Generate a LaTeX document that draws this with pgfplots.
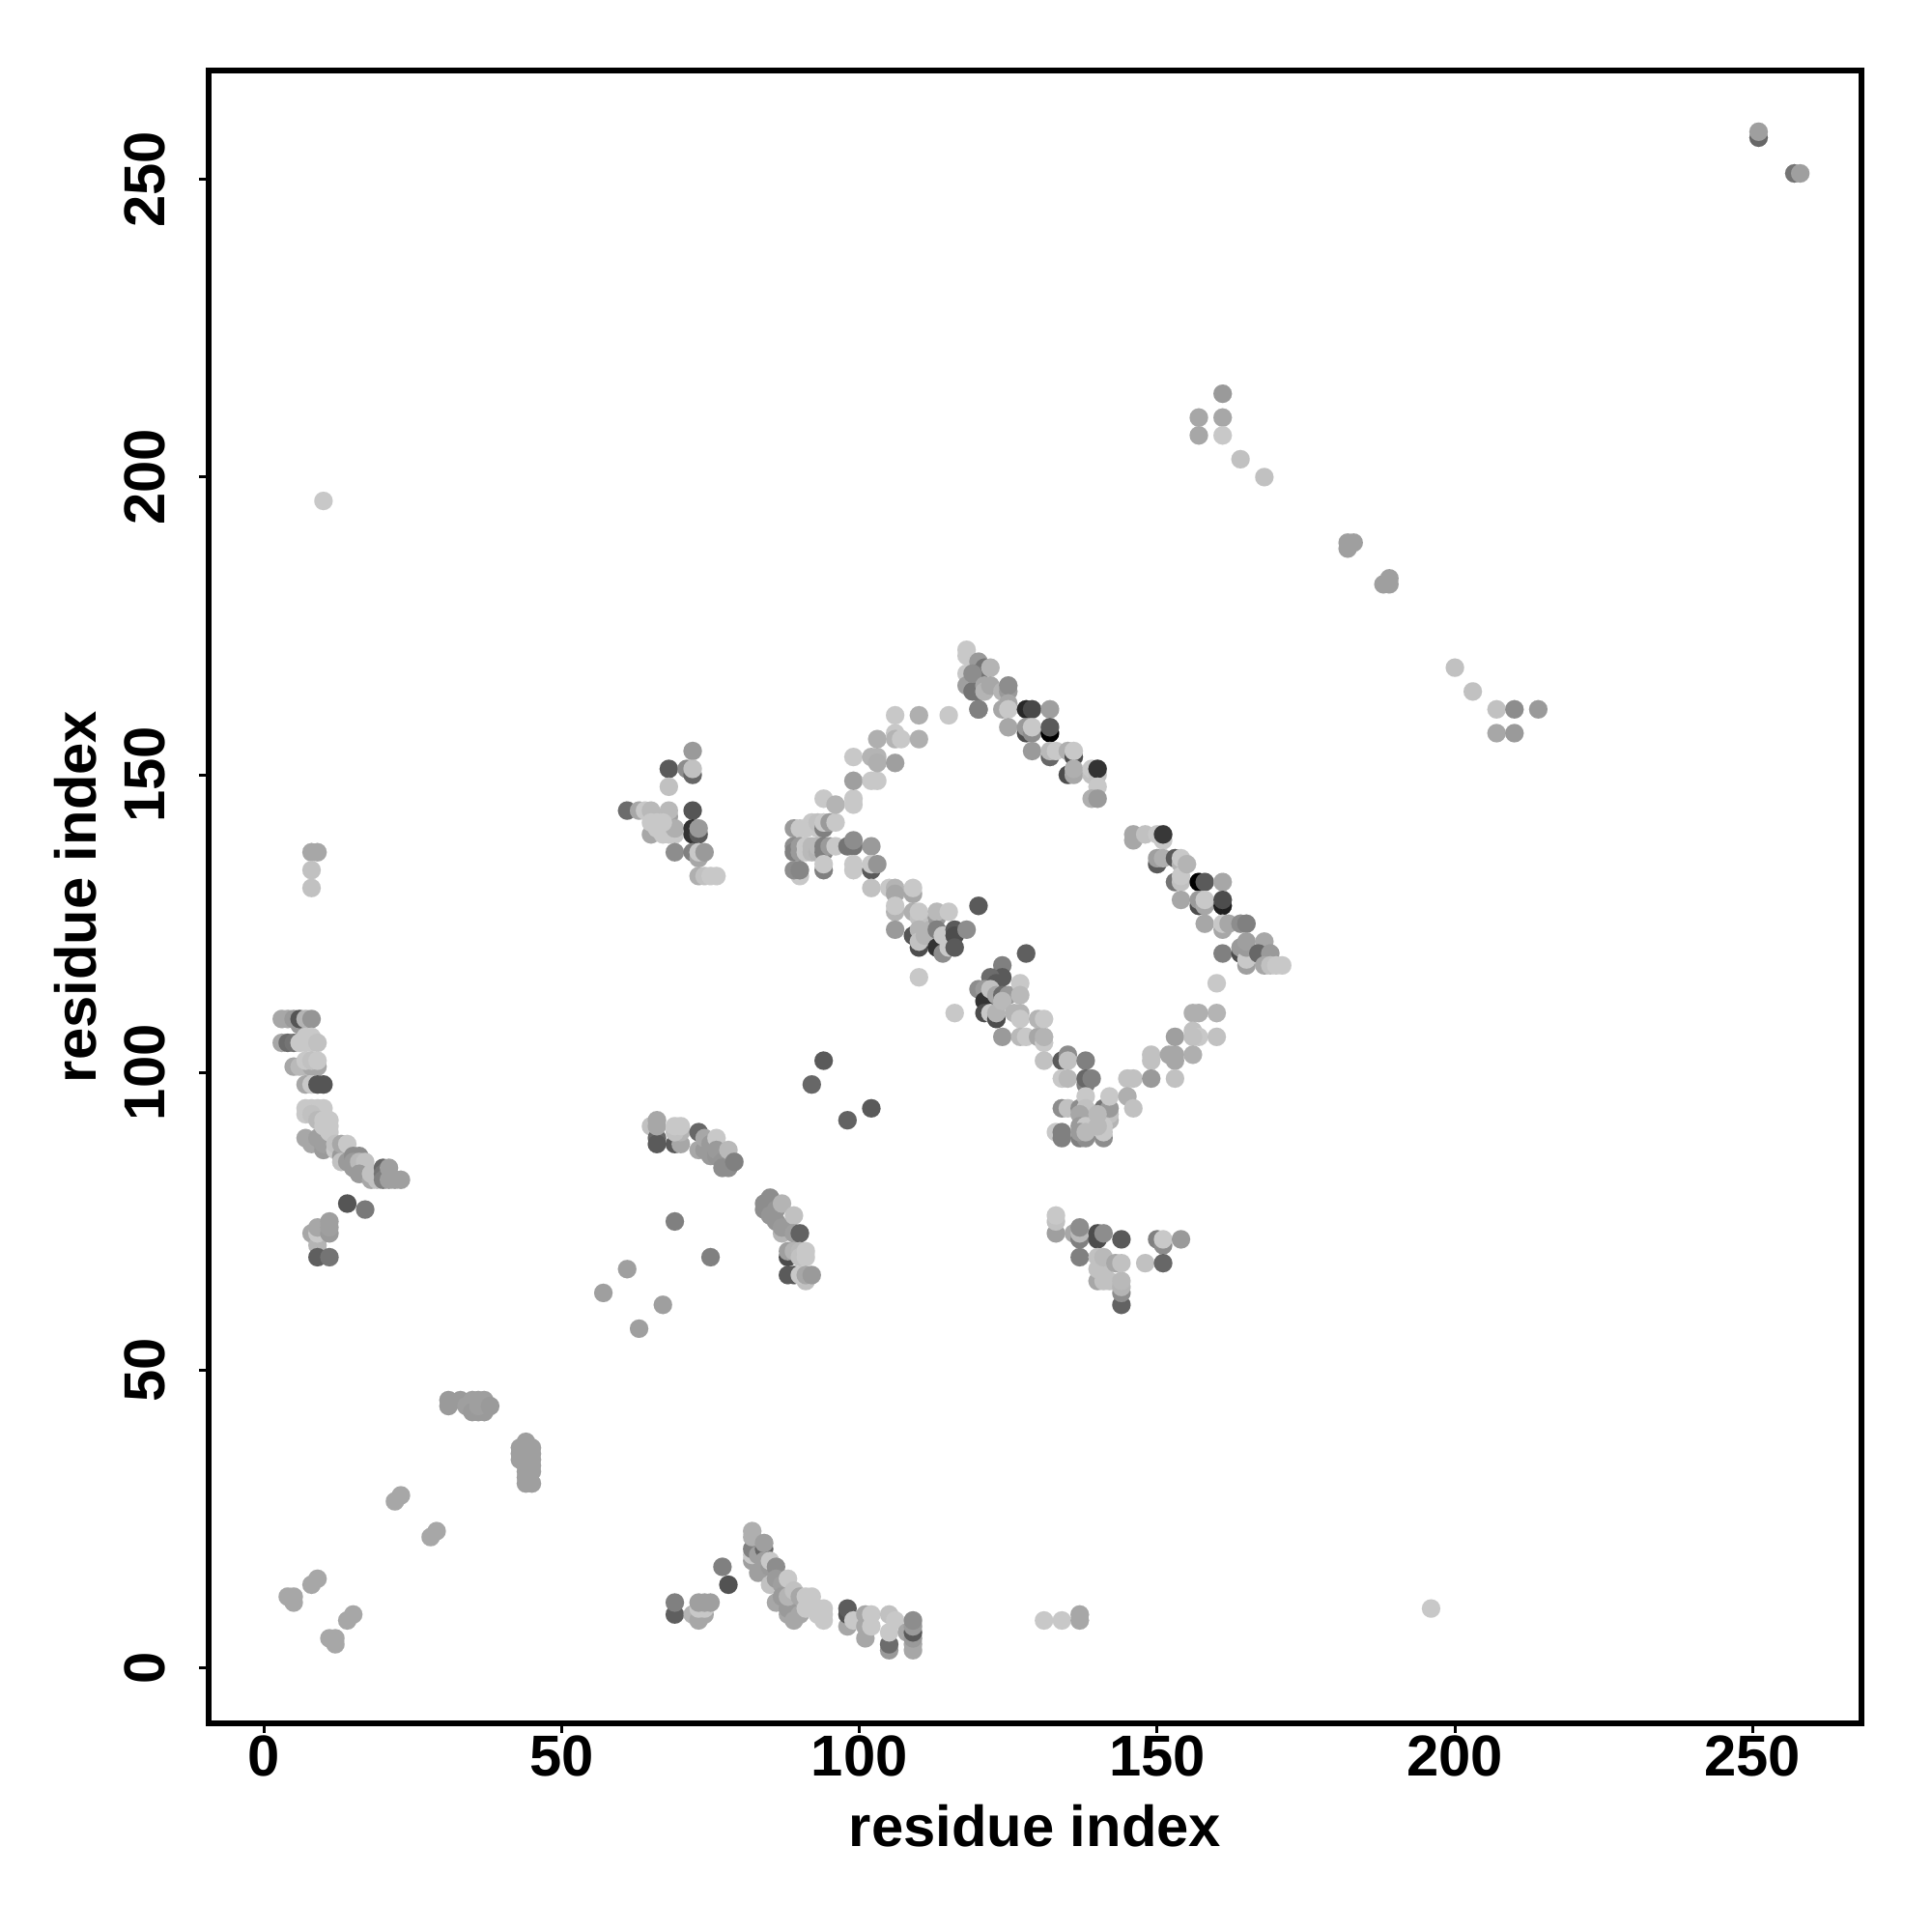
\documentclass[border=0pt]{standalone}
\usepackage{fontspec}
\setmainfont{Liberation Sans}
\usepackage{pgfplots}
\pgfplotsset{compat=1.18}
\begin{document}
\begin{tikzpicture}
\path[use as bounding box] (-21.6mm,-21.6mm) rectangle (178.4mm,178.4mm);
\begin{axis}[
  scale only axis, width=171.1mm, height=171.1mm,
  xmin=-9.28, xmax=268.28, ymin=-9.28, ymax=268.28,
  axis line style={line width=0.55mm,black},
  tick style={line width=0.3mm,black},
  tick align=outside, major tick length=1.0mm,
  xtick pos=bottom, ytick pos=left,
  xtick={0,50,100,150,200,250}, ytick={0,50,100,150,200,250},
  /pgf/number format/assume math mode=true,
  ticklabel style={font=\fontsize{17pt}{20pt}\selectfont\bfseries},
  xticklabel style={anchor=north,yshift=1.0mm},
  yticklabel style={rotate=90,anchor=south,yshift=2.2mm},
  xlabel={residue index}, ylabel={residue index},
  label style={font=\fontsize{17pt}{20pt}\selectfont\bfseries},
  xlabel style={at={(axis description cs:0.5,0)},anchor=base,yshift=-12.7mm},
  ylabel style={at={(axis description cs:0,0.5)},anchor=base,rotate=0,yshift=11.6mm},
  colormap={gr}{gray(0cm)=(0); gray(1cm)=(1)},
  point meta min=0, point meta max=1,
]
\addplot[scatter, only marks, mark=*, mark size=2.72pt, point meta=explicit,
  mark options={line width=0.01pt},
  scatter/use mapped color={draw=mapped color,fill=mapped color}] coordinates {
(3,109)[.65] (4,109)[.65] (5,109)[.6] (6,108)[.6] (6,109)[.33] (7,109)[.7] (8,109)[.58]
(3,105)[.65] (4,105)[.42] (5,105)[.45] (6,105)[.78] (7,105)[.78] (7,106)[.78] (8,106)[.78] (8,105)[.78] (9,105)[.75]
(5,101)[.65] (6,101)[.72] (7,101)[.72] (8,101)[.65] (9,101)[.65] (7,102)[.78] (8,102)[.75] (9,102)[.78]
(7,98)[.65] (8,98)[.78] (9,98)[.33] (10,98)[.33]
(7,89)[.65] (8,88)[.65] (9,89)[.62] (10,87)[.6] (10,88)[.62]
(7,94)[.78] (8,94)[.78] (9,94)[.78] (10,94)[.78] (7,93)[.78] (8,93)[.75] (9,92)[.72] (10,92)[.78] (11,92)[.78] (10,91)[.78] (11,91)[.78] (11,90)[.78]
(12,87)[.78] (12,88)[.75] (13,86)[.6] (13,88)[.65] (14,88)[.78] (13,85)[.75] (14,85)[.6] (15,86)[.55] (16,86)[.55] (15,85)[.6] (15,84)[.6] (16,83)[.6] (16,85)[.72] (17,85)[.75] (17,84)[.75]
(16,83)[.6] (18,82)[.65] (18,83)[.75] (19,82)[.75] (20,84)[.4] (20,83)[.45] (20,82)[.5] (21,84)[.62] (21,82)[.62] (22,82)[.62] (23,82)[.62]
(14,78)[.33] (17,77)[.47]
(8,73)[.65] (9,72)[.65] (9,71)[.7] (9,73)[.78] (9,74)[.65] (11,73)[.6] (11,74)[.62] (11,75)[.62]
(9,69)[.37] (11,69)[.45]
(8,137)[.65] (9,137)[.65] (8,134)[.75] (8,131)[.75] (10,196)[.78]
% top left loop cluster
(72,154)[.6] (68,151)[.35] (71,151)[.55] (72,150)[.4] (72,151)[.75] (68,148)[.75]
(61,144)[.42] (63,144)[.65] (64,144)[.78] (65,144)[.72] (68,143)[.62] (68,144)[.72] (72,144)[.33]
(65,140)[.65] (65,142)[.78] (66,141)[.78] (67,140)[.78] (68,140)[.78] (69,140)[.78] (69,141)[.68] (66,142)[.78] (67,142)[.78]
(72,140)[.2] (72,141)[.2] (73,140)[.35] (73,141)[.6]
(69,137)[.55] (72,137)[.5] (73,136)[.65] (73,137)[.78] (74,137)[.6]
(73,133)[.68] (74,133)[.75] (75,133)[.78] (76,133)[.78]
% left of upper arc
(89,141)[.6] (90,141)[.78] (91,141)[.78] (92,142)[.78] (93,141)[.78] (93,142)[.75] (94,141)[.5] (94,142)[.78] (95,142)[.6] (96,142)[.78]
(89,138)[.55] (89,137)[.5] (90,138)[.6] (90,137)[.6] (91,138)[.78] (91,137)[.78] (92,138)[.72] (92,137)[.72] (93,137)[.7] (93,138)[.72] (94,137)[.5] (94,138)[.5] (95,138)[.6] (96,138)[.78]
(90,133)[.78] (89,134)[.55] (90,134)[.52] (94,134)[.5] (94,135)[.78]
(94,146)[.78] (96,145)[.7] (99,146)[.78] (99,145)[.78] (99,149)[.62] (102,149)[.78] (103,149)[.78]
(99,153)[.78] (102,153)[.7] (103,153)[.7] (103,152)[.68] (106,152)[.62] (103,156)[.68] (106,157)[.78] (106,156)[.7] (107,156)[.78] (110,156)[.68]
(106,160)[.78] (110,160)[.68] (115,160)[.78] (120,161)[.5]
(98,138)[.45] (99,138)[.45] (99,139)[.55] (102,138)[.6]
(99,135)[.78] (99,134)[.78] (102,134)[.35] (102,135)[.78] (103,135)[.58]
(102,131)[.75] (105,131)[.78] (106,131)[.7] (106,130)[.65] (109,130)[.65] (109,131)[.78]
(106,127)[.7] (106,128)[.78] (106,124)[.6] (109,127)[.68] (110,126)[.75] (110,127)[.78]
(109,123)[.33] (110,124)[.7] (110,121)[.3] (110,122)[.75] (111,123)[.7] (112,124)[.7] (113,126)[.6] (113,127)[.72] (115,127)[.78]
(113,124)[.5] (113,121)[.2] (114,120)[.55] (115,121)[.78] (114,123)[.78] (116,124)[.35] (116,123)[.3] (116,121)[.35] (118,124)[.55] (120,128)[.35]
(110,116)[.78] (116,110)[.78] (128,120)[.37]
(124,118)[.5] (124,116)[.35] (122,116)[.42] (123,115)[.35] (120,114)[.55] (121,114)[.6]
(121,112)[.2] (122,114)[.75] (123,113)[.65] (124,113)[.42] (125,113)[.6] (127,115)[.78] (127,113)[.72]
(121,110)[.3] (122,110)[.78] (123,109)[.3] (123,110)[.7] (124,112)[.72] (126,110)[.7] (127,110)[.7] (127,109)[.78]
(124,106)[.6] (127,106)[.72] (128,106)[.78] (130,106)[.65] (131,105)[.78] (131,106)[.7] (130,109)[.7] (131,109)[.78] (131,102)[.75]
(134,102)[.35] (135,103)[.55] (135,102)[.75] (138,102)[.5]
(134,99)[.78] (135,99)[.72] (138,98)[.5] (138,99)[.4] (139,99)[.5]
(134,94)[.55] (135,94)[.75] (137,94)[.55] (138,96)[.78] (138,94)[.75] (138,93)[.75] (137,93)[.65] (137,91)[.6] (138,91)[.78]
(141,94)[.45] (142,92)[.7] (142,93)[.75] (142,94)[.6] (142,96)[.78] (141,89)[.55] (141,90)[.78] (141,91)[.78] (140,91)[.72] (140,93)[.72]
(133,90)[.78] (134,90)[.5] (134,89)[.5] (137,89)[.5] (138,89)[.55] (137,90)[.6] (138,90)[.72]
(145,99)[.75] (146,99)[.75] (145,96)[.68] (146,94)[.75]
(149,103)[.75] (149,102)[.75] (149,99)[.6] (152,103)[.65] (153,103)[.65] (153,102)[.65] (153,99)[.75] (153,106)[.62]
(156,110)[.68] (156,107)[.75] (157,106)[.78] (156,106)[.75] (156,103)[.68] (160,106)[.75] (160,110)[.7] (157,110)[.68] (160,115)[.78]
% upper arc
(118,171)[.78] (118,170)[.78] (118,167)[.78] (118,165)[.62] (119,164)[.45] (120,169)[.6] (120,167)[.4] (120,164)[.45] (121,168)[.45] (122,168)[.7] (120,161)[.5]
(119,167)[.55] (121,165)[.65] (121,164)[.7] (122,165)[.65]
(124,164)[.7] (125,164)[.6] (125,165)[.55] (125,162)[.65] (124,161)[.65] (125,161)[.78] (125,158)[.65]
(128,161)[.15] (129,161)[.28] (132,161)[.62] (128,157)[.3] (128,158)[.6] (129,157)[.55] (129,158)[.78] (132,157)[0] (132,158)[.35]
(129,154)[.6] (132,153)[.4] (132,154)[.72] (133,154)[.78] (135,154)[.68] (136,153)[.3] (136,154)[.78]
(135,150)[.3] (136,150)[.65] (136,151)[.68] (139,150)[.75] (139,151)[.78] (140,150)[.75] (140,151)[.2] (140,148)[.78]
(139,146)[.68] (140,146)[.6]
% lower right arm
(146,140)[.65] (146,139)[.65] (148,140)[.75] (150,140)[.78] (151,139)[.78] (151,140)[.22]
(150,135)[.35] (150,136)[.62] (151,136)[.68] (153,136)[.35] (154,135)[.7] (154,136)[.78]
(153,132)[.45] (154,132)[.75] (154,133)[.78] (154,129)[.65] (157,132)[0] (158,132)[.35] (161,132)[.65]
(157,128)[.3] (157,129)[.6] (158,128)[.65] (158,129)[.78] (161,128)[.12] (161,129)[.3]
(158,125)[.65] (161,124)[.65] (161,125)[.78] (162,125)[.65] (164,125)[.55] (165,125)[.5]
(161,120)[.5] (164,120)[.3] (164,121)[.6] (165,118)[.62] (165,119)[.78] (165,121)[.6] (165,122)[.62]
(168,122)[.65] (167,120)[.4] (169,120)[.6] (168,118)[.65] (169,118)[.75] (170,118)[.78] (171,118)[.78]
(155,135)[.7]
% upper right scattered
(251,257)[.4] (251,258)[.62] (257,251)[.45] (258,251)[.62]
(161,214)[.6] (157,210)[.65] (161,210)[.65] (157,207)[.65] (161,207)[.78] (164,203)[.75] (168,200)[.75]
(182,188)[.62] (182,189)[.62] (183,189)[.62] (188,182)[.62] (189,182)[.62] (189,183)[.62]
(200,168)[.75] (203,164)[.75] (207,161)[.75] (210,161)[.55] (214,161)[.6] (207,157)[.65] (210,157)[.6]
(94,102)[.35] (92,98)[.4] (98,92)[.38] (102,94)[.35]
% middle
(65,91)[.75] (66,89)[.4] (66,88)[.35] (66,91)[.65] (66,92)[.65]
(69,88)[.35] (70,88)[.65] (70,90)[.7] (69,90)[.75] (69,91)[.78] (70,91)[.78]
(73,90)[.4] (73,87)[.65] (74,87)[.6] (74,89)[.65] (75,88)[.6] (76,89)[.78] (75,86)[.6] (76,86)[.58] (76,87)[.6] (77,85)[.58] (77,84)[.55] (78,84)[.55] (78,87)[.72] (79,85)[.5]
(84,77)[.55] (84,78)[.55] (85,79)[.55] (85,76)[.58] (86,75)[.58] (86,77)[.58] (87,78)[.7] (87,73)[.7] (87,74)[.6] (88,74)[.6] (89,76)[.75] (89,73)[.62] (90,73)[.38]
(88,69)[.3] (88,70)[.62] (89,70)[.7] (90,70)[.72] (90,69)[.75] (91,70)[.78] (91,69)[.78]
(88,66)[.35] (89,66)[.35] (91,65)[.75] (90,66)[.78] (91,66)[.65] (92,66)[.6]
(69,75)[.5] (75,69)[.5] (61,67)[.62] (67,61)[.62] (57,63)[.62] (63,57)[.62]
% lower middle
(133,73)[.62] (133,75)[.75] (133,76)[.78]
(136,73)[.65] (137,72)[.5] (137,73)[.72] (137,74)[.55] (137,69)[.5]
(140,72)[.3] (140,73)[.3] (141,73)[.55] (144,72)[.35]
(140,65)[.65] (141,65)[.75] (142,65)[.75] (140,67)[.75] (141,67)[.75] (140,69)[.75] (141,69)[.72]
(144,61)[.38] (144,63)[.55] (144,64)[.7] (144,65)[.72] (143,68)[.65] (144,68)[.75]
(148,68)[.75] (150,72)[.5] (151,71)[.55] (151,72)[.78] (154,72)[.6] (151,68)[.4]
% 31-45 groups
(31,44)[.6] (31,45)[.6] (33,45)[.6] (34,44)[.62] (35,45)[.62] (36,45)[.62] (37,45)[.62] (35,43)[.6] (36,43)[.6] (37,43)[.6] (36,44)[.62] (38,44)[.6]
(44,38)[.62] (43,37)[.62] (45,37)[.62] (43,36)[.62] (44,36)[.62] (45,36)[.62] (43,35)[.62] (45,35)[.62] (44,34)[.62] (45,34)[.62] (44,33)[.62] (45,33)[.62] (44,32)[.62] (44,31)[.62] (45,31)[.62]
(22,28)[.65] (23,29)[.65] (28,22)[.65] (29,23)[.65] (4,12)[.65] (5,12)[.65] (5,11)[.65] (8,14)[.65] (9,15)[.65] (11,5)[.65] (12,4)[.65] (12,5)[.65] (14,8)[.65] (15,9)[.65]
% bottom row
(69,9)[.37] (69,11)[.5] (72,9)[.7] (73,8)[.65] (74,9)[.65] (73,10)[.78] (74,10)[.78] (73,11)[.62] (74,11)[.62] (75,11)[.62]
(77,17)[.5] (78,14)[.32]
(82,18)[.62] (82,19)[.78] (82,20)[.5] (82,22)[.68] (82,23)[.68]
(83,16)[.62] (83,19)[.62] (84,20)[.4] (84,21)[.62] (84,18)[.62] (85,14)[.75] (85,17)[.6] (85,18)[.78] (86,17)[.55] (86,15)[.6] (86,11)[.65] (87,14)[.62] (87,12)[.6] (88,15)[.78]
(88,9)[.65] (88,10)[.6] (88,12)[.7] (89,8)[.65] (89,13)[.75] (90,9)[.65] (90,12)[.65] (91,10)[.78] (91,12)[.78] (92,12)[.78] (93,9)[.78] (93,10)[.78] (94,8)[.78] (94,9)[.78] (94,10)[.78]
(98,7)[.65] (98,9)[.32] (98,10)[.36] (99,8)[.78]
(101,5)[.65] (101,7)[.65] (101,9)[.65] (102,7)[.78] (102,9)[.78]
(105,3)[.6] (105,4)[.42] (105,6)[.78] (105,9)[.75] (106,8)[.78]
(108,6)[.65] (109,3)[.65] (109,4)[.65] (109,5)[.6] (109,6)[.35] (109,7)[.6] (109,8)[.55]
(131,8)[.78] (134,8)[.78] (137,8)[.65] (137,9)[.65] (196,10)[.78]
};
\end{axis}
\end{tikzpicture}
\end{document}
